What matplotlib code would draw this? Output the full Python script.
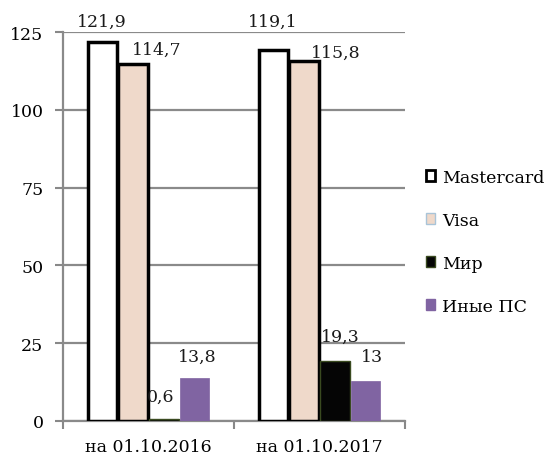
import matplotlib
matplotlib.use("Agg")
import matplotlib.pyplot as plt
import numpy as np
from matplotlib.patches import Patch

categories = ["на 01.10.2016", "на 01.10.2017"]
series = ["Mastercard", "Visa", "Мир", "Иные ПС"]
mastercard = [121.9, 119.1]
visa = [114.7, 115.8]
mir = [0.6, 19.3]
other = [13.8, 13.0]
labels = [["121,9", "119,1"], ["114,7", "115,8"], ["0,6", "19,3"], ["13,8", "13"]]
yticks = [0, 25, 50, 75, 100, 125]

plt.rcParams['font.family'] = ['DejaVu Serif']
fig = plt.figure(figsize=(5.49, 4.56), dpi=100)
ax = fig.add_axes([63/549, 1-422/456, (405-63)/549, (422-33)/456])

data = [mastercard, visa, mir, other]
fills = ["white", "#EFD9CA", "#050505", "#8064A2"]
edges = ["black", "black", "#3a4a20", "#8064A2"]
lws = [2.5, 2.5, 1, 0.5]
x = np.arange(len(categories))
w = 0.181
offsets = np.array([-1.5, -0.5, 0.5, 1.5]) * w
# label offsets in points (dx, dy) relative to the bar top centre
lab_off = [[(0, 14.8), (0, 21.1)], [(17.3, 10.8), (23, 6.3)],
           [(-2.2, 16.6), (4, 18)], [(1.4, 15.8), (4.3, 17)]]
for i, (vals, fc, ec, lw) in enumerate(zip(data, fills, edges, lws)):
    ax.bar(x + offsets[i], vals, width=w*0.94, color=fc, edgecolor=ec, linewidth=lw, zorder=3)
    for j, v in enumerate(vals):
        ax.annotate(labels[i][j], xy=(x[j] + offsets[i], v), xytext=lab_off[i][j],
                    textcoords="offset points", ha="center", va="center",
                    fontsize=12.5, color="#1a1a1a", zorder=4)

ax.set_xlim(-0.5, 1.5)
ax.set_ylim(0, 125)
ax.set_yticks(yticks)
ax.set_yticklabels([str(t) for t in yticks], fontsize=12.5)
ax.set_xticks([-0.5, 0.5, 1.5], minor=False)
ax.set_xticklabels([])
ax.set_xticks(x, minor=True)
ax.set_xticklabels(categories, minor=True, fontsize=12.5)
ax.tick_params(axis="x", which="minor", length=0, pad=12)
ax.tick_params(axis="x", which="major", length=6, width=1.5, color="#888888")
ax.tick_params(axis="y", length=6, width=1.5, color="#888888", pad=8)
ax.grid(axis="y", color="#8a8a8a", linewidth=1.6, zorder=0)
for s in ["top", "right"]:
    ax.spines[s].set_visible(False)
for s in ["left", "bottom"]:
    ax.spines[s].set_color("#8a8a8a")
    ax.spines[s].set_linewidth(1.6)
ax.set_axisbelow(True)

leg_edges = ["black", "#a9c4d8", "#3a4a20", "#8064A2"]
handles = [Patch(facecolor=fc, edgecolor=ec, linewidth=(2 if i == 0 else 1))
           for i, (fc, ec) in enumerate(zip(fills, leg_edges))]
fig.legend(handles, series, loc="upper left", bbox_to_anchor=(410/549, 1-154/456),
           frameon=False, fontsize=12.5, handlelength=0.55, handleheight=0.55,
           handletextpad=0.4, labelspacing=1.5)

fig.savefig("out.png", dpi=100)
